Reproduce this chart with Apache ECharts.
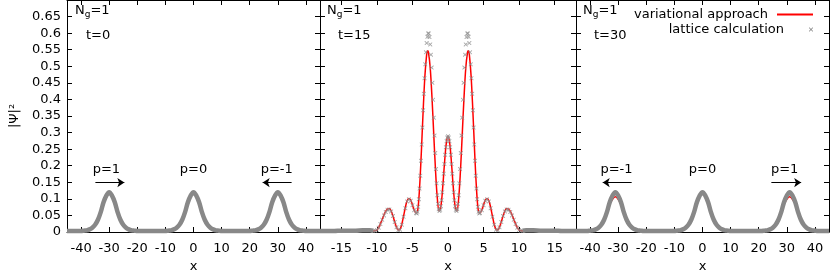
<!DOCTYPE html>
<html><head><meta charset="utf-8">
<script src="https://cdn.jsdelivr.net/npm/echarts@6/dist/echarts.min.js"></script>
<style>html,body{margin:0;padding:0;background:#fff}#c{width:830px;height:277px}</style>
</head><body><div id="c"></div>
<script>
// ---------------- data ----------------
const X_TICKS_WIDE = [-40, -30, -20, -10, 0, 10, 20, 30, 40];
const X_TICKS_MID = [-15, -10, -5, 0, 5, 10, 15];
const Y_TICK_LABELS = [0, 0.05, 0.1, 0.15, 0.2, 0.25, 0.3, 0.35, 0.4, 0.45, 0.5, 0.55, 0.6, 0.65];
const Y_TICK_MARKS = [0, 0.05, 0.1, 0.15, 0.2, 0.25, 0.3, 0.35, 0.4, 0.45, 0.5, 0.55, 0.6, 0.65, 0.7];

// panels 1 and 3 share the x grid
const WIDE_X = [-45,-44,-43,-42,-41,-40,-39,-38,-37,-36,-35,-34,-33,-32,-31,-30,-29,-28,-27,-26,-25,-24,-23,-22,-21,-20,-19,-18,-17,-16,-15,-14,-13,-12,-11,-10,-9,-8,-7,-6,-5,-4,-3,-2,-1,0,1,2,3,4,5,6,7,8,9,10,11,12,13,14,15,16,17,18,19,20,21,22,23,24,25,26,27,28,29,30,31,32,33,34,35,36,37,38,39,40,41,42,43,44,45];

// t = 0
const T0_LATTICE = [0.003,0.003,0.003,0.003,0.003,0.003,0.004,0.005,0.008,0.013,0.022,0.037,0.060,0.090,0.110,0.120,0.110,0.090,0.060,0.037,0.022,0.013,0.008,0.005,0.004,0.003,0.003,0.003,0.003,0.003,0.003,0.003,0.003,0.003,0.003,0.003,0.004,0.005,0.008,0.013,0.022,0.037,0.060,0.090,0.110,0.120,0.110,0.090,0.060,0.037,0.022,0.013,0.008,0.005,0.004,0.003,0.003,0.003,0.003,0.003,0.003,0.003,0.003,0.003,0.003,0.003,0.004,0.005,0.008,0.013,0.022,0.037,0.060,0.090,0.110,0.120,0.110,0.090,0.060,0.037,0.022,0.013,0.008,0.005,0.004,0.003,0.003,0.003,0.003,0.003,0.003];
const T0_VARIATIONAL = [0.002,0.002,0.002,0.002,0.002,0.002,0.003,0.004,0.007,0.012,0.021,0.036,0.059,0.088,0.107,0.116,0.107,0.088,0.059,0.036,0.021,0.012,0.007,0.004,0.003,0.002,0.002,0.002,0.002,0.002,0.002,0.002,0.002,0.002,0.002,0.002,0.003,0.004,0.007,0.012,0.021,0.036,0.059,0.088,0.107,0.116,0.107,0.088,0.059,0.036,0.021,0.012,0.007,0.004,0.003,0.002,0.002,0.002,0.002,0.002,0.002,0.002,0.002,0.002,0.002,0.002,0.003,0.004,0.007,0.012,0.021,0.036,0.059,0.088,0.107,0.116,0.107,0.088,0.059,0.036,0.021,0.012,0.007,0.004,0.003,0.002,0.002,0.002,0.002,0.002,0.002];

// t = 30
const T30_LATTICE = [0.003,0.003,0.003,0.003,0.003,0.004,0.005,0.008,0.013,0.022,0.037,0.060,0.090,0.110,0.120,0.110,0.090,0.060,0.037,0.022,0.013,0.008,0.005,0.004,0.003,0.003,0.003,0.003,0.003,0.003,0.003,0.003,0.003,0.003,0.003,0.003,0.004,0.005,0.008,0.013,0.022,0.037,0.060,0.090,0.110,0.120,0.110,0.090,0.060,0.037,0.022,0.013,0.008,0.005,0.004,0.003,0.003,0.003,0.003,0.003,0.003,0.003,0.003,0.003,0.003,0.003,0.003,0.004,0.005,0.008,0.013,0.022,0.037,0.060,0.090,0.110,0.120,0.110,0.090,0.060,0.037,0.022,0.013,0.008,0.005,0.004,0.003,0.003,0.003,0.003,0.003];
const T30_VARIATIONAL = [0.002,0.002,0.002,0.002,0.002,0.003,0.005,0.008,0.014,0.024,0.039,0.060,0.084,0.099,0.106,0.099,0.084,0.060,0.039,0.024,0.014,0.008,0.005,0.003,0.002,0.002,0.002,0.002,0.002,0.002,0.002,0.002,0.002,0.002,0.002,0.002,0.003,0.004,0.007,0.012,0.021,0.036,0.059,0.089,0.108,0.118,0.108,0.089,0.059,0.036,0.021,0.012,0.007,0.004,0.003,0.002,0.002,0.002,0.002,0.002,0.002,0.002,0.002,0.002,0.002,0.002,0.002,0.003,0.005,0.008,0.014,0.024,0.039,0.060,0.084,0.099,0.106,0.099,0.084,0.060,0.039,0.024,0.014,0.008,0.005,0.003,0.002,0.002,0.002,0.002,0.002];

// t = 15
const T15_VAR_X = [-18,-17,-16,-15,-14,-13,-12,-11,-10.5,-10.25,-10,-9.75,-9.5,-9.25,-9,-8.75,-8.5,-8.25,-8,-7.75,-7.5,-7.25,-7,-6.75,-6.5,-6.25,-6,-5.75,-5.5,-5.25,-5,-4.75,-4.5,-4.25,-4,-3.75,-3.5,-3.25,-3,-2.875,-2.75,-2.5,-2.25,-2,-1.75,-1.5,-1.25,-1,-0.75,-0.5,-0.25,0,0.25,0.5,0.75,1,1.25,1.5,1.75,2,2.25,2.5,2.75,2.875,3,3.25,3.5,3.75,4,4.25,4.5,4.75,5,5.25,5.5,5.75,6,6.25,6.5,6.75,7,7.25,7.5,7.75,8,8.25,8.5,8.75,9,9.25,9.5,9.75,10,10.25,10.5,11,12,13,14,15,16,17,18];
const T15_VARIATIONAL = [0.003,0.003,0.003,0.003,0.003,0.003,0.003,0.003,0.003,0.004,0.006,0.013,0.025,0.038,0.052,0.063,0.069,0.071,0.064,0.049,0.031,0.015,0.006,0.008,0.023,0.048,0.074,0.094,0.101,0.096,0.082,0.066,0.057,0.067,0.133,0.240,0.363,0.470,0.536,0.547,0.543,0.495,0.405,0.293,0.184,0.101,0.064,0.078,0.133,0.205,0.266,0.289,0.266,0.205,0.133,0.078,0.064,0.101,0.184,0.293,0.405,0.495,0.543,0.547,0.536,0.470,0.363,0.240,0.133,0.067,0.057,0.066,0.082,0.096,0.101,0.094,0.074,0.048,0.023,0.008,0.006,0.015,0.031,0.049,0.064,0.071,0.069,0.063,0.052,0.038,0.025,0.013,0.006,0.004,0.003,0.003,0.003,0.003,0.003,0.003,0.003,0.003,0.003];

const T15_LAT_X = [-10.5,-10.25,-10,-9.75,-9.5,-9.25,-9,-8.75,-8.5,-8.25,-8,-7.75,-7.5,-7.25,-7,-6.75,-6.5,-6.25,-6,-5.75,-5.5,-5.25,-5,-4.75,
 -4.5,-4.4,-4.3,-4.2,-4.1,-4,-3.9,-3.8,-3.7,-3.6,-3.5,-3.4,-3.3,-3.2,-3.1,-3,-2.9,-2.8,-2.7,-2.6,-2.5,-2.4,-2.3,-2.2,-2.1,-2,-1.9,-1.8,-1.7,-1.6,-1.5,-1.4,-1.3,-1.2,-1.1,-1,-0.9,-0.8,-0.7,-0.6,-0.5,-0.4,-0.3,-0.2,-0.1,0,
 0.1,0.2,0.3,0.4,0.5,0.6,0.7,0.8,0.9,1,1.1,1.2,1.3,1.4,1.5,1.6,1.7,1.8,1.9,2,2.1,2.2,2.3,2.4,2.5,2.6,2.7,2.8,2.9,3,3.1,3.2,3.3,3.4,3.5,3.6,3.7,3.8,3.9,4,4.1,4.2,4.3,4.4,4.5,
 4.75,5,5.25,5.5,5.75,6,6.25,6.5,6.75,7,7.25,7.5,7.75,8,8.25,8.5,8.75,9,9.25,9.5,9.75,10,10.25,10.5];
const T15_LATTICE = [0.003,0.004,0.006,0.013,0.024,0.037,0.050,0.060,0.067,0.068,0.062,0.048,0.030,0.014,0.005,0.007,0.022,0.046,0.072,0.092,0.099,0.094,0.081,0.066,
 0.057,0.056,0.061,0.076,0.099,0.131,0.170,0.215,0.264,0.315,0.367,0.417,0.464,0.506,0.542,0.570,0.589,0.599,0.599,0.588,0.566,0.535,0.496,0.450,0.399,0.345,0.291,0.238,0.190,0.147,0.111,0.085,0.069,0.063,0.067,0.078,0.096,0.120,0.147,0.176,0.205,0.233,0.256,0.274,0.285,0.289,
 0.285,0.274,0.256,0.233,0.205,0.176,0.147,0.120,0.096,0.078,0.067,0.063,0.069,0.085,0.111,0.147,0.190,0.238,0.291,0.345,0.399,0.450,0.496,0.535,0.566,0.588,0.599,0.599,0.589,0.570,0.542,0.506,0.464,0.417,0.367,0.315,0.264,0.215,0.170,0.131,0.099,0.076,0.061,0.056,0.057,
 0.066,0.081,0.094,0.099,0.092,0.072,0.046,0.022,0.007,0.005,0.014,0.030,0.048,0.062,0.068,0.067,0.060,0.050,0.037,0.024,0.013,0.006,0.004,0.003];
const T15_TAIL_LEFT_X = [-18,-17,-16,-15,-14,-13,-12,-11,-10.5];
const T15_TAIL_LEFT = [0.003,0.003,0.003,0.004,0.004,0.004,0.005,0.005,0.004];
const T15_TAIL_RIGHT_X = [10.5,11,12,13,14,15,16,17,18];
const T15_TAIL_RIGHT = [0.004,0.005,0.005,0.004,0.004,0.004,0.003,0.003,0.003];

// annotations (data coordinates)
const ANNOT_T0 = [{name: 'p=1', coord: [-31, 0.187]}, {name: 'p=0', coord: [0, 0.187]}, {name: 'p=-1', coord: [29.6, 0.187]}];
const ARROWS_T0 = [[[-34.9, 0.149], [-24.6, 0.149]], [[34.9, 0.149], [24.6, 0.149]]];
const ANNOT_T30 = [{name: 'p=-1', coord: [-30.6, 0.187]}, {name: 'p=0', coord: [0, 0.187]}, {name: 'p=1', coord: [29.2, 0.187]}];
const ARROWS_T30 = [[[-25.2, 0.149], [-35.5, 0.149]], [[24.5, 0.149], [35.1, 0.149]]];

// ---------------- chart ----------------
const FONT = 'DejaVu Sans';
const FS = 13;
const RED = '#ff0000';
const GREY = '#888888';
const X_PATH = 'path://M0,0L1.5,0L5,3.5L8.5,0L10,0L10,1.5L6.5,5L10,8.5L10,10L8.5,10L5,6.5L1.5,10L0,10L0,8.5L3.5,5L0,1.5Z';
const LINE_ICON = 'path://M0,0L40,0L40,2L0,2Z';
function zip(xs, ys) { return xs.map((x, i) => [x, ys[i]]); }

const panels = [
  {left: 67, width: 253, min: -45, max: 45, ticks: X_TICKS_WIDE},
  {left: 320, width: 256, min: -18, max: 18, ticks: X_TICKS_MID},
  {left: 576, width: 253, min: -45, max: 45, ticks: X_TICKS_WIDE}
];
const lineAx = {show: true, onZero: false, lineStyle: {color: '#000', width: 1}};
const grid = panels.map(p => ({left: p.left, width: p.width, top: 0, height: 232, containLabel: false, outerBoundsMode: 'none'}));
const xAxis = [], yAxis = [];
panels.forEach((p, i) => {
  xAxis.push({type: 'value', gridIndex: i, position: 'bottom', min: p.min, max: p.max,
    name: 'x', nameLocation: 'middle', nameGap: 28,
    nameTextStyle: {color: '#000', fontSize: FS, fontFamily: FONT},
    axisLine: lineAx,
    axisTick: {show: true, inside: true, length: 5, customValues: p.ticks, lineStyle: {color: '#000'}},
    axisLabel: {show: true, customValues: p.ticks, color: '#000', fontSize: FS, fontFamily: FONT, margin: 10},
    splitLine: {show: false}});
  xAxis.push({type: 'value', gridIndex: i, position: 'top', min: p.min, max: p.max,
    axisLine: lineAx,
    axisTick: {show: true, inside: true, length: 5, customValues: p.ticks, lineStyle: {color: '#000'}},
    axisLabel: {show: false}, splitLine: {show: false}});
  yAxis.push({type: 'value', gridIndex: i, position: 'left', min: 0, max: 0.7,
    name: i === 0 ? '|Ψ|²' : '', nameLocation: 'middle', nameGap: 46, nameRotate: 90,
    nameTextStyle: {color: '#000', fontSize: FS, fontFamily: FONT},
    axisLine: lineAx,
    axisTick: {show: true, inside: true, length: 5, customValues: Y_TICK_MARKS, lineStyle: {color: '#000'}},
    axisLabel: {show: i === 0, customValues: Y_TICK_LABELS, color: '#000', fontSize: FS, fontFamily: FONT, margin: 6},
    splitLine: {show: false}});
  yAxis.push({type: 'value', gridIndex: i, position: 'right', min: 0, max: 0.7,
    axisLine: lineAx,
    axisTick: {show: true, inside: true, length: 5, customValues: Y_TICK_MARKS, lineStyle: {color: '#000'}},
    axisLabel: {show: false}, splitLine: {show: false}});
});

function varSeries(i, xs, ys, annot, arrows) {
  const s = {name: 'variational approach', type: 'line', xAxisIndex: 2 * i, yAxisIndex: 2 * i,
    data: zip(xs, ys), smooth: 0.35, symbol: 'none', z: 2,
    lineStyle: {color: RED, width: 1.5}, itemStyle: {color: RED}};
  if (annot) {
    s.markPoint = {silent: true, symbol: 'circle', symbolSize: 1, itemStyle: {color: 'rgba(0,0,0,0)'},
      label: {show: true, position: 'inside', color: '#000', fontSize: FS, fontFamily: FONT, formatter: p => p.name},
      data: annot};
    s.markLine = {silent: true, symbol: ['none', 'arrow'], symbolSize: 7, animation: false,
      lineStyle: {color: '#000', width: 1, type: 'solid'}, label: {show: false},
      data: arrows.map(a => [{coord: a[0]}, {coord: a[1]}])};
  }
  return s;
}
function bandSeries(i, xs, ys) {
  return {name: 'lattice calculation', type: 'line', xAxisIndex: 2 * i, yAxisIndex: 2 * i,
    data: zip(xs, ys), smooth: 0.35, symbol: 'none', z: 3,
    lineStyle: {color: GREY, width: 4.5}, itemStyle: {color: GREY}};
}

const series = [
  varSeries(0, WIDE_X, T0_VARIATIONAL, ANNOT_T0, ARROWS_T0),
  bandSeries(0, WIDE_X, T0_LATTICE),
  varSeries(1, T15_VAR_X, T15_VARIATIONAL),
  {name: 'lattice calculation', type: 'scatter', xAxisIndex: 2, yAxisIndex: 2,
    data: zip(T15_LAT_X, T15_LATTICE), symbol: X_PATH, symbolSize: 4, z: 3,
    itemStyle: {color: '#8f8f8f'}},
  bandSeries(1, T15_TAIL_LEFT_X, T15_TAIL_LEFT),
  bandSeries(1, T15_TAIL_RIGHT_X, T15_TAIL_RIGHT),
  varSeries(2, WIDE_X, T30_VARIATIONAL, ANNOT_T30, ARROWS_T30),
  bandSeries(2, WIDE_X, T30_LATTICE)
];

function ngText(left, top) {
  return {type: 'text', left: left, top: top, silent: true,
    style: {text: '{n|N}{s|g}{n|=1}', rich: {
      n: {fontSize: FS, fontFamily: FONT, fill: '#000'},
      s: {fontSize: 9, fontFamily: FONT, fill: '#000', padding: [9, 0, 0, 0]}}}};
}
function tText(left, top, t) {
  return {type: 'text', left: left, top: top, silent: true,
    style: {text: t, fontSize: FS, fontFamily: FONT, fill: '#000'}};
}

const option = {
  animation: false,
  backgroundColor: '#fff',
  grid: grid, xAxis: xAxis, yAxis: yAxis, series: series,
  legend: [
    {data: [{name: 'variational approach', icon: LINE_ICON, itemStyle: {color: RED}}], right: 17, top: 8, orient: 'vertical', align: 'right', padding: 0,
      itemWidth: 36, itemHeight: 2, selectedMode: false, symbolKeepAspect: false,
      textStyle: {color: '#000', fontSize: FS, fontFamily: FONT, padding: [0, 4, 0, 0]}},
    {data: [{name: 'lattice calculation', icon: X_PATH, itemStyle: {color: GREY}}], right: 17, top: 23, orient: 'vertical', align: 'right', padding: 0,
      itemWidth: 36, itemHeight: 4, selectedMode: false,
      textStyle: {color: '#000', fontSize: FS, fontFamily: FONT, padding: [0, 4, 0, 0]}}
  ],
  graphic: [
    ngText(75, 4), tText(86, 29, 't=0'),
    ngText(327, 4), tText(338, 29, 't=15'),
    ngText(583, 4), tText(594, 29, 't=30')
  ]
};
const chart = echarts.init(document.getElementById('c'), null, {renderer: 'canvas'});
chart.setOption(option);
</script></body></html>
